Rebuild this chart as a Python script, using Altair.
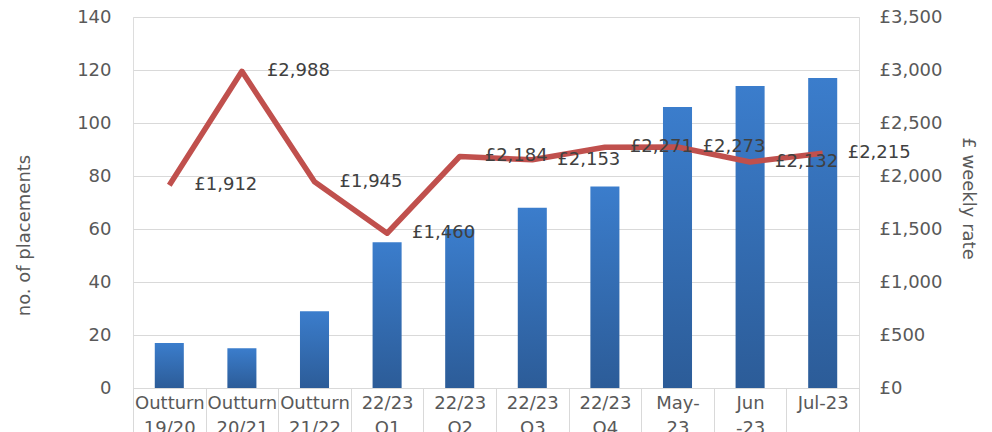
import json
import altair as alt
import pandas as pd

categories = ["Outturn 19/20", "Outturn 20/21", "Outturn 21/22", "22/23 Q1", "22/23 Q2",
              "22/23 Q3", "22/23 Q4", "May-23", "Jun -23", "Jul-23"]
x_label_lines = ["Outturn|19/20", "Outturn|20/21", "Outturn|21/22", "22/23|Q1", "22/23|Q2",
                 "22/23|Q3", "22/23|Q4", "May-|23", "Jun|-23", "Jul-23"]
placements = [17, 15, 29, 55, 60, 68, 76, 106, 114, 117]
weekly_rate = [1912, 2988, 1945, 1460, 2184, 2153, 2271, 2273, 2132, 2215]
left_ticks = [0, 20, 40, 60, 80, 100, 120, 140]
right_ticks = [0, 500, 1000, 1500, 2000, 2500, 3000, 3500]

df = pd.DataFrame({"cat": categories, "placements": placements, "rate": weekly_rate})

FONT = "DejaVu Sans"
FS = 18
cats_js = json.dumps(categories)
lines_js = json.dumps(x_label_lines)
label_expr = (f"indexof({cats_js}, datum.value) < 0 ? '' : "
              f"split({lines_js}[indexof({cats_js}, datum.value)], '|')")

x_enc = alt.X("cat:N", sort=categories, title=None,
              scale=alt.Scale(paddingInner=0, paddingOuter=0),
              axis=alt.Axis(labelExpr=label_expr, labelAngle=0, labelFont=FONT, labelFontSize=FS,
                            labelColor="#595959", labelPadding=-38, labelLineHeight=25,
                            labelOverlap=False, labelLimit=0,
                            tickBand="extent", ticks=True, tickSize=44, tickColor="#d9d9d9",
                            domainColor="#d9d9d9", grid=False))

bars = alt.Chart(df).mark_bar(
    width=alt.RelativeBandSize(0.4),
    color=alt.Gradient(gradient="linear", x1=0, x2=0, y1=0, y2=1,
                       stops=[alt.GradientStop(color="#3b7dcc", offset=0),
                              alt.GradientStop(color="#2c5c98", offset=1)])
).encode(
    x=x_enc,
    y=alt.Y("placements:Q", scale=alt.Scale(domain=[0, 140]),
            axis=alt.Axis(orient="left", values=left_ticks, title="no. of placements",
                          grid=True, gridColor="#d9d9d9", domain=False, ticks=False,
                          labelFont=FONT, labelFontSize=FS, labelColor="#595959", labelPadding=22,
                          titleFont=FONT, titleFontSize=FS, titleFontWeight="normal",
                          titleColor="#595959", titleX=-100, titleY=218)),
)

rate_y = alt.Y("rate:Q", scale=alt.Scale(domain=[0, 3500]),
               axis=alt.Axis(orient="right", values=right_ticks, title="£ weekly rate",
                             grid=False, domain=False, ticks=False,
                             labelExpr="'£' + format(datum.value, ',')",
                             labelFont=FONT, labelFontSize=FS, labelColor="#595959", labelPadding=20,
                             titleFont=FONT, titleFontSize=FS, titleFontWeight="normal",
                             titleColor="#595959", titleX=99, titleY=181))

line = alt.Chart(df).mark_line(color="#c0504d", strokeWidth=5.5, strokeJoin="round").encode(
    x=alt.X("cat:N", sort=categories), y=rate_y)

text = alt.Chart(df).transform_calculate(
    lbl="'£' + format(datum.rate, ',')"
).mark_text(align="left", baseline="middle", dx=25, font=FONT, fontSize=FS, color="#404040").encode(
    x=alt.X("cat:N", sort=categories), y=rate_y, text="lbl:N")

chart = alt.layer(bars, alt.layer(line, text)).resolve_scale(y="independent").properties(
    width=726, height=371,
    autosize=alt.AutoSizeParams(type="none"),
    padding={"left": 133, "top": 17, "right": 133, "bottom": 44},
).configure_view(stroke=None).configure(background="white")

chart.save("out.html", embed_options={"renderer": "svg", "actions": False})
